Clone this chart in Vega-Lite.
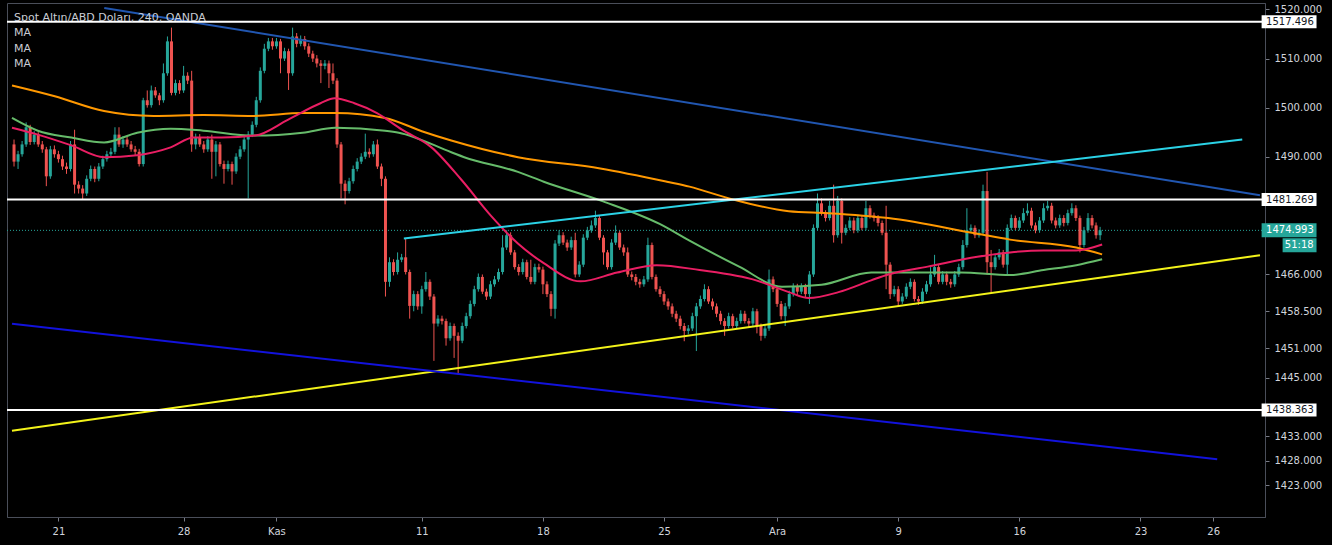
{
  "$schema": "https://vega.github.io/schema/vega-lite/v6.json",
  "width": 1258,
  "height": 514,
  "autosize": "none",
  "padding": {"left": 7, "top": 3, "right": 67, "bottom": 28},
  "background": "#000000",
  "config": {"view": {"stroke": "#4a4e59", "strokeWidth": 1}, "font": "DejaVu Sans"},
  "resolve": {"axis": {"x": "independent", "y": "independent"}},
  "title": {
    "text": "Spot Altın/ABD Doları, 240, OANDA",
    "subtitle": ["MA", "MA", "MA"],
    "anchor": "start", "frame": "group", "orient": "top", "offset": -66, "dx": 7,
    "font": "DejaVu Sans", "fontSize": 11, "fontWeight": "normal", "color": "#c9ccd4",
    "subtitleFont": "DejaVu Sans", "subtitleFontSize": 11, "subtitleColor": "#c9ccd4",
    "subtitleLineHeight": 15.5, "subtitlePadding": 4
  },
  "datasets": {
    "candles": [
      {"i":0,"o":1492.5,"h":1493.5,"l":1488,"c":1489},
      {"i":1,"o":1489,"h":1491.2,"l":1487.5,"c":1490.5},
      {"i":2,"o":1490.5,"h":1493.2,"l":1490,"c":1492.5},
      {"i":3,"o":1492.5,"h":1497,"l":1492,"c":1496},
      {"i":4,"o":1496,"h":1496.5,"l":1492.4,"c":1493},
      {"i":5,"o":1493,"h":1495.2,"l":1492.5,"c":1494.5},
      {"i":6,"o":1494.5,"h":1495,"l":1492,"c":1492.5},
      {"i":7,"o":1492.5,"h":1493.2,"l":1490.8,"c":1491.5},
      {"i":8,"o":1491.5,"h":1492,"l":1484,"c":1486},
      {"i":9,"o":1486,"h":1492.2,"l":1485.5,"c":1491.5},
      {"i":10,"o":1491.5,"h":1492.3,"l":1489.8,"c":1490.5},
      {"i":11,"o":1490.5,"h":1491.2,"l":1488.8,"c":1489.5},
      {"i":12,"o":1489.5,"h":1490.2,"l":1487.3,"c":1488},
      {"i":13,"o":1488,"h":1488.8,"l":1486.5,"c":1487.5},
      {"i":14,"o":1487.5,"h":1493.2,"l":1487,"c":1492.5},
      {"i":15,"o":1492.5,"h":1495.5,"l":1482.5,"c":1484.3},
      {"i":16,"o":1484.3,"h":1485,"l":1482.5,"c":1483.5},
      {"i":17,"o":1483.5,"h":1484.2,"l":1481.3,"c":1482.5},
      {"i":18,"o":1482.5,"h":1486.2,"l":1482,"c":1485.5},
      {"i":19,"o":1485.5,"h":1488.2,"l":1485,"c":1487.5},
      {"i":20,"o":1487.5,"h":1488,"l":1484.8,"c":1485.5},
      {"i":21,"o":1485.5,"h":1488.7,"l":1485,"c":1488},
      {"i":22,"o":1488,"h":1490.2,"l":1487.5,"c":1489.5},
      {"i":23,"o":1489.5,"h":1491.2,"l":1489,"c":1490.5},
      {"i":24,"o":1490.5,"h":1491.8,"l":1490,"c":1491},
      {"i":25,"o":1491,"h":1496,"l":1490.5,"c":1494.5},
      {"i":26,"o":1494.5,"h":1496,"l":1492,"c":1492.5},
      {"i":27,"o":1492.5,"h":1494.2,"l":1491.8,"c":1493.5},
      {"i":28,"o":1493.5,"h":1494.2,"l":1492,"c":1492.5},
      {"i":29,"o":1492.5,"h":1493.2,"l":1491,"c":1491.5},
      {"i":30,"o":1491.5,"h":1492.2,"l":1490.3,"c":1491},
      {"i":31,"o":1491,"h":1491.6,"l":1488,"c":1488.5},
      {"i":32,"o":1488.5,"h":1502,"l":1488,"c":1501.5},
      {"i":33,"o":1501.5,"h":1503.5,"l":1500,"c":1500.5},
      {"i":34,"o":1500.5,"h":1504.5,"l":1500,"c":1503.5},
      {"i":35,"o":1503.5,"h":1504.2,"l":1502,"c":1502.5},
      {"i":36,"o":1502.5,"h":1503,"l":1500.5,"c":1501.5},
      {"i":37,"o":1501.5,"h":1509,"l":1501,"c":1507},
      {"i":38,"o":1507,"h":1514.5,"l":1506.5,"c":1513.5},
      {"i":39,"o":1513.5,"h":1516.3,"l":1502.5,"c":1503},
      {"i":40,"o":1503,"h":1505.7,"l":1502.5,"c":1505},
      {"i":41,"o":1505,"h":1505.6,"l":1502.8,"c":1503.5},
      {"i":42,"o":1503.5,"h":1508.5,"l":1503,"c":1506.5},
      {"i":43,"o":1506.5,"h":1507.2,"l":1504.8,"c":1505.5},
      {"i":44,"o":1505.5,"h":1507.5,"l":1491,"c":1492.5},
      {"i":45,"o":1492.5,"h":1494.7,"l":1491.5,"c":1494},
      {"i":46,"o":1494,"h":1494.6,"l":1492,"c":1492.5},
      {"i":47,"o":1492.5,"h":1493.2,"l":1490.8,"c":1491.5},
      {"i":48,"o":1491.5,"h":1494.2,"l":1491,"c":1493.5},
      {"i":49,"o":1493.5,"h":1494.5,"l":1485.5,"c":1491},
      {"i":50,"o":1491,"h":1493.2,"l":1486,"c":1492.5},
      {"i":51,"o":1492.5,"h":1493,"l":1488,"c":1488.5},
      {"i":52,"o":1488.5,"h":1489.2,"l":1484.5,"c":1487.5},
      {"i":53,"o":1487.5,"h":1489.2,"l":1487,"c":1488.5},
      {"i":54,"o":1488.5,"h":1489,"l":1484.3,"c":1487},
      {"i":55,"o":1487,"h":1490.7,"l":1486.5,"c":1490},
      {"i":56,"o":1490,"h":1492.2,"l":1489.5,"c":1491.5},
      {"i":57,"o":1491.5,"h":1494.2,"l":1491,"c":1493.5},
      {"i":58,"o":1493.5,"h":1495.2,"l":1481.5,"c":1494.5},
      {"i":59,"o":1494.5,"h":1497.2,"l":1494,"c":1496.5},
      {"i":60,"o":1496.5,"h":1502.2,"l":1496,"c":1501.5},
      {"i":61,"o":1501.5,"h":1508.2,"l":1501,"c":1507.5},
      {"i":62,"o":1507.5,"h":1513,"l":1507,"c":1512},
      {"i":63,"o":1512,"h":1514.2,"l":1511.5,"c":1513.5},
      {"i":64,"o":1513.5,"h":1514.2,"l":1511.8,"c":1512.5},
      {"i":65,"o":1512.5,"h":1514.2,"l":1512,"c":1513.5},
      {"i":66,"o":1513.5,"h":1514,"l":1507,"c":1510},
      {"i":67,"o":1510,"h":1512.2,"l":1509.5,"c":1511.5},
      {"i":68,"o":1511.5,"h":1512,"l":1503.6,"c":1507},
      {"i":69,"o":1507,"h":1516.3,"l":1506.5,"c":1514.5},
      {"i":70,"o":1514.5,"h":1515.2,"l":1512.3,"c":1513},
      {"i":71,"o":1513,"h":1514.7,"l":1512.5,"c":1514},
      {"i":72,"o":1514,"h":1514.6,"l":1511.8,"c":1512.5},
      {"i":73,"o":1512.5,"h":1513.1,"l":1510.3,"c":1511},
      {"i":74,"o":1511,"h":1511.6,"l":1509.3,"c":1510},
      {"i":75,"o":1510,"h":1510.7,"l":1508.2,"c":1509},
      {"i":76,"o":1509,"h":1509.7,"l":1505,"c":1508.5},
      {"i":77,"o":1508.5,"h":1509.7,"l":1507.8,"c":1509},
      {"i":78,"o":1509,"h":1509.6,"l":1504,"c":1507},
      {"i":79,"o":1507,"h":1509,"l":1504.8,"c":1505.5},
      {"i":80,"o":1505.5,"h":1506,"l":1491.8,"c":1492.5},
      {"i":81,"o":1492.5,"h":1493,"l":1481.5,"c":1484.5},
      {"i":82,"o":1484.5,"h":1485.2,"l":1480.3,"c":1483},
      {"i":83,"o":1483,"h":1485.7,"l":1482.5,"c":1485},
      {"i":84,"o":1485,"h":1488.2,"l":1484.5,"c":1487.5},
      {"i":85,"o":1487.5,"h":1489.7,"l":1487,"c":1489},
      {"i":86,"o":1489,"h":1490.7,"l":1488.5,"c":1490},
      {"i":87,"o":1490,"h":1494.7,"l":1489.5,"c":1491},
      {"i":88,"o":1491,"h":1491.7,"l":1489.8,"c":1490.5},
      {"i":89,"o":1490.5,"h":1493.2,"l":1490,"c":1492.5},
      {"i":90,"o":1492.5,"h":1493.5,"l":1487.5,"c":1488},
      {"i":91,"o":1488,"h":1488.6,"l":1484,"c":1485.5},
      {"i":92,"o":1485.5,"h":1486,"l":1461.5,"c":1464.5},
      {"i":93,"o":1464.5,"h":1469.5,"l":1463.5,"c":1468.5},
      {"i":94,"o":1468.5,"h":1469.1,"l":1465.8,"c":1466.5},
      {"i":95,"o":1466.5,"h":1470.5,"l":1466,"c":1469},
      {"i":96,"o":1469,"h":1470.2,"l":1468.5,"c":1469.5},
      {"i":97,"o":1469.5,"h":1473.3,"l":1466,"c":1466.5},
      {"i":98,"o":1466.5,"h":1467,"l":1457,"c":1459.6},
      {"i":99,"o":1459.6,"h":1462.7,"l":1458.5,"c":1462},
      {"i":100,"o":1462,"h":1462.6,"l":1458.8,"c":1459.5},
      {"i":101,"o":1459.5,"h":1463.7,"l":1458,"c":1463},
      {"i":102,"o":1463,"h":1466.5,"l":1462.5,"c":1464.5},
      {"i":103,"o":1464.5,"h":1465,"l":1460.8,"c":1461.5},
      {"i":104,"o":1461.5,"h":1462,"l":1448.4,"c":1456},
      {"i":105,"o":1456,"h":1457.7,"l":1455.4,"c":1457},
      {"i":106,"o":1457,"h":1457.6,"l":1455.8,"c":1456.5},
      {"i":107,"o":1456.5,"h":1457,"l":1451.5,"c":1453},
      {"i":108,"o":1453,"h":1456.2,"l":1452.5,"c":1455.5},
      {"i":109,"o":1455.5,"h":1456,"l":1449,"c":1453.5},
      {"i":110,"o":1453.5,"h":1454.2,"l":1445.6,"c":1452.5},
      {"i":111,"o":1452.5,"h":1456.2,"l":1452,"c":1455.5},
      {"i":112,"o":1455.5,"h":1458.2,"l":1455,"c":1457.5},
      {"i":113,"o":1457.5,"h":1460.7,"l":1457,"c":1460},
      {"i":114,"o":1460,"h":1463.7,"l":1459.5,"c":1463},
      {"i":115,"o":1463,"h":1466.2,"l":1462.5,"c":1465.5},
      {"i":116,"o":1465.5,"h":1466,"l":1462,"c":1462.5},
      {"i":117,"o":1462.5,"h":1463.1,"l":1460.8,"c":1461.5},
      {"i":118,"o":1461.5,"h":1464.7,"l":1461,"c":1464},
      {"i":119,"o":1464,"h":1465.7,"l":1463.5,"c":1465},
      {"i":120,"o":1465,"h":1467.2,"l":1464.5,"c":1466.5},
      {"i":121,"o":1466.5,"h":1474,"l":1466,"c":1471.5},
      {"i":122,"o":1471.5,"h":1475,"l":1471,"c":1474},
      {"i":123,"o":1474,"h":1474.6,"l":1470,"c":1470.5},
      {"i":124,"o":1470.5,"h":1471,"l":1467,"c":1467.5},
      {"i":125,"o":1467.5,"h":1468.1,"l":1465.8,"c":1466.5},
      {"i":126,"o":1466.5,"h":1469.2,"l":1466,"c":1468.5},
      {"i":127,"o":1468.5,"h":1469,"l":1465,"c":1465.5},
      {"i":128,"o":1465.5,"h":1469,"l":1464,"c":1464.5},
      {"i":129,"o":1464.5,"h":1468.2,"l":1464,"c":1467.5},
      {"i":130,"o":1467.5,"h":1468.2,"l":1466.4,"c":1467},
      {"i":131,"o":1467,"h":1467.6,"l":1462,"c":1464},
      {"i":132,"o":1464,"h":1464.6,"l":1461.4,"c":1462},
      {"i":133,"o":1462,"h":1462.6,"l":1457.5,"c":1459},
      {"i":134,"o":1459,"h":1473,"l":1457,"c":1472.3},
      {"i":135,"o":1472.3,"h":1475,"l":1471.8,"c":1474},
      {"i":136,"o":1474,"h":1474.6,"l":1472,"c":1472.5},
      {"i":137,"o":1472.5,"h":1473.1,"l":1470.8,"c":1471.5},
      {"i":138,"o":1471.5,"h":1473.7,"l":1471,"c":1473},
      {"i":139,"o":1473,"h":1474.5,"l":1465.4,"c":1466},
      {"i":140,"o":1466,"h":1468.7,"l":1465.5,"c":1468},
      {"i":141,"o":1468,"h":1474.2,"l":1467.5,"c":1473.5},
      {"i":142,"o":1473.5,"h":1475.7,"l":1473,"c":1475},
      {"i":143,"o":1475,"h":1477,"l":1474.5,"c":1476},
      {"i":144,"o":1476,"h":1479,"l":1475.5,"c":1477.5},
      {"i":145,"o":1477.5,"h":1478,"l":1473,"c":1473.5},
      {"i":146,"o":1473.5,"h":1474,"l":1468,"c":1470.5},
      {"i":147,"o":1470.5,"h":1471,"l":1467,"c":1467.5},
      {"i":148,"o":1467.5,"h":1473.2,"l":1467,"c":1472.5},
      {"i":149,"o":1472.5,"h":1476,"l":1472,"c":1474.5},
      {"i":150,"o":1474.5,"h":1475,"l":1471,"c":1471.5},
      {"i":151,"o":1471.5,"h":1472.1,"l":1469.8,"c":1470.5},
      {"i":152,"o":1470.5,"h":1471.5,"l":1465.5,"c":1466},
      {"i":153,"o":1466,"h":1466.6,"l":1464.8,"c":1465.5},
      {"i":154,"o":1465.5,"h":1466.1,"l":1463.8,"c":1464.5},
      {"i":155,"o":1464.5,"h":1465.1,"l":1463.3,"c":1464},
      {"i":156,"o":1464,"h":1465.7,"l":1463.5,"c":1465},
      {"i":157,"o":1465,"h":1473.5,"l":1464.5,"c":1472},
      {"i":158,"o":1472,"h":1472.5,"l":1465,"c":1465.5},
      {"i":159,"o":1465.5,"h":1466,"l":1462.5,"c":1463},
      {"i":160,"o":1463,"h":1463.6,"l":1461.4,"c":1462},
      {"i":161,"o":1462,"h":1462.6,"l":1459.8,"c":1460.5},
      {"i":162,"o":1460.5,"h":1461.1,"l":1458.8,"c":1459.5},
      {"i":163,"o":1459.5,"h":1460.1,"l":1457.3,"c":1458},
      {"i":164,"o":1458,"h":1458.6,"l":1456.3,"c":1457},
      {"i":165,"o":1457,"h":1457.6,"l":1454.8,"c":1455.5},
      {"i":166,"o":1455.5,"h":1456.1,"l":1452.4,"c":1454.5},
      {"i":167,"o":1454.5,"h":1455.7,"l":1453.8,"c":1455},
      {"i":168,"o":1455,"h":1458.2,"l":1454.5,"c":1457.5},
      {"i":169,"o":1457.5,"h":1460.2,"l":1450.4,"c":1459.5},
      {"i":170,"o":1459.5,"h":1461.7,"l":1459,"c":1461},
      {"i":171,"o":1461,"h":1464,"l":1460.5,"c":1463},
      {"i":172,"o":1463,"h":1463.6,"l":1460,"c":1460.5},
      {"i":173,"o":1460.5,"h":1461.1,"l":1458.8,"c":1459.5},
      {"i":174,"o":1459.5,"h":1460.1,"l":1457.3,"c":1458},
      {"i":175,"o":1458,"h":1458.6,"l":1455.8,"c":1456.5},
      {"i":176,"o":1456.5,"h":1457.1,"l":1453.5,"c":1455.5},
      {"i":177,"o":1455.5,"h":1458.2,"l":1455,"c":1457.5},
      {"i":178,"o":1457.5,"h":1458,"l":1455,"c":1455.5},
      {"i":179,"o":1455.5,"h":1457.2,"l":1455,"c":1456.5},
      {"i":180,"o":1456.5,"h":1458.7,"l":1456,"c":1458},
      {"i":181,"o":1458,"h":1458.6,"l":1456,"c":1456.5},
      {"i":182,"o":1456.5,"h":1457.1,"l":1455.3,"c":1456},
      {"i":183,"o":1456,"h":1459.2,"l":1455.5,"c":1458.5},
      {"i":184,"o":1458.5,"h":1459,"l":1454,"c":1455.5},
      {"i":185,"o":1455.5,"h":1456,"l":1452.5,"c":1453.5},
      {"i":186,"o":1453.5,"h":1455.7,"l":1453,"c":1455},
      {"i":187,"o":1455,"h":1467,"l":1454.5,"c":1465},
      {"i":188,"o":1465,"h":1465.6,"l":1462.4,"c":1463},
      {"i":189,"o":1463,"h":1463.6,"l":1459.4,"c":1460},
      {"i":190,"o":1460,"h":1460.6,"l":1456.8,"c":1457.5},
      {"i":191,"o":1457.5,"h":1460.2,"l":1455.5,"c":1459.5},
      {"i":192,"o":1459.5,"h":1462.7,"l":1459,"c":1462},
      {"i":193,"o":1462,"h":1464.2,"l":1461.5,"c":1463.5},
      {"i":194,"o":1463.5,"h":1464.1,"l":1461.8,"c":1462.5},
      {"i":195,"o":1462.5,"h":1464.2,"l":1462,"c":1463.5},
      {"i":196,"o":1463.5,"h":1464.1,"l":1461.3,"c":1462},
      {"i":197,"o":1462,"h":1466.7,"l":1460,"c":1466},
      {"i":198,"o":1466,"h":1476.2,"l":1465.5,"c":1475.5},
      {"i":199,"o":1475.5,"h":1482.5,"l":1475,"c":1480.5},
      {"i":200,"o":1480.5,"h":1481.5,"l":1478,"c":1478.5},
      {"i":201,"o":1478.5,"h":1479.1,"l":1476.8,"c":1477.5},
      {"i":202,"o":1477.5,"h":1481,"l":1477,"c":1480},
      {"i":203,"o":1480,"h":1484.3,"l":1472.5,"c":1474},
      {"i":204,"o":1474,"h":1482,"l":1473.5,"c":1481},
      {"i":205,"o":1481,"h":1481.5,"l":1472.3,"c":1474.5},
      {"i":206,"o":1474.5,"h":1476.2,"l":1474,"c":1475.5},
      {"i":207,"o":1475.5,"h":1477.7,"l":1475,"c":1477},
      {"i":208,"o":1477,"h":1477.6,"l":1474.4,"c":1475},
      {"i":209,"o":1475,"h":1478.2,"l":1474.5,"c":1477.5},
      {"i":210,"o":1477.5,"h":1478,"l":1475,"c":1475.5},
      {"i":211,"o":1475.5,"h":1481,"l":1475,"c":1479.5},
      {"i":212,"o":1479.5,"h":1480.1,"l":1477.4,"c":1478},
      {"i":213,"o":1478,"h":1478.6,"l":1476.8,"c":1477.5},
      {"i":214,"o":1477.5,"h":1478.1,"l":1475.8,"c":1476.5},
      {"i":215,"o":1476.5,"h":1477,"l":1474,"c":1474.5},
      {"i":216,"o":1474.5,"h":1480,"l":1463,"c":1468},
      {"i":217,"o":1468,"h":1468.5,"l":1461,"c":1462},
      {"i":218,"o":1462,"h":1463.7,"l":1461.5,"c":1463},
      {"i":219,"o":1463,"h":1463.6,"l":1459.5,"c":1460.5},
      {"i":220,"o":1460.5,"h":1462.2,"l":1460,"c":1461.5},
      {"i":221,"o":1461.5,"h":1464.2,"l":1461,"c":1463.5},
      {"i":222,"o":1463.5,"h":1465.2,"l":1463,"c":1464.5},
      {"i":223,"o":1464.5,"h":1465,"l":1460.5,"c":1461},
      {"i":224,"o":1461,"h":1461.6,"l":1459.8,"c":1460.5},
      {"i":225,"o":1460.5,"h":1463.2,"l":1460,"c":1462.5},
      {"i":226,"o":1462.5,"h":1464.7,"l":1462,"c":1464},
      {"i":227,"o":1464,"h":1467.5,"l":1463.5,"c":1466},
      {"i":228,"o":1466,"h":1470,"l":1465.5,"c":1467.5},
      {"i":229,"o":1467.5,"h":1468,"l":1464,"c":1464.5},
      {"i":230,"o":1464.5,"h":1466.7,"l":1464,"c":1466},
      {"i":231,"o":1466,"h":1466.6,"l":1463.8,"c":1464.5},
      {"i":232,"o":1464.5,"h":1465.1,"l":1463.3,"c":1464},
      {"i":233,"o":1464,"h":1466.7,"l":1463.5,"c":1466},
      {"i":234,"o":1466,"h":1468.2,"l":1465.5,"c":1467.5},
      {"i":235,"o":1467.5,"h":1473,"l":1467,"c":1472},
      {"i":236,"o":1472,"h":1479.5,"l":1471.5,"c":1475},
      {"i":237,"o":1475,"h":1476.2,"l":1474.5,"c":1475.5},
      {"i":238,"o":1475.5,"h":1476,"l":1473.4,"c":1474},
      {"i":239,"o":1474,"h":1475.2,"l":1473.5,"c":1474.5},
      {"i":240,"o":1474.5,"h":1484.3,"l":1474,"c":1483},
      {"i":241,"o":1483,"h":1486.9,"l":1466,"c":1468.5},
      {"i":242,"o":1468.5,"h":1471,"l":1462.4,"c":1467.5},
      {"i":243,"o":1467.5,"h":1470.2,"l":1467,"c":1469.5},
      {"i":244,"o":1469.5,"h":1471.2,"l":1469,"c":1470.5},
      {"i":245,"o":1470.5,"h":1471,"l":1467.4,"c":1468},
      {"i":246,"o":1468,"h":1476.2,"l":1466,"c":1475.5},
      {"i":247,"o":1475.5,"h":1478.2,"l":1475,"c":1477.5},
      {"i":248,"o":1477.5,"h":1478,"l":1475,"c":1475.5},
      {"i":249,"o":1475.5,"h":1477.7,"l":1475,"c":1477},
      {"i":250,"o":1477,"h":1479.5,"l":1476.5,"c":1478.5},
      {"i":251,"o":1478.5,"h":1480.5,"l":1478,"c":1479},
      {"i":252,"o":1479,"h":1479.6,"l":1475.4,"c":1476},
      {"i":253,"o":1476,"h":1476.6,"l":1474.4,"c":1475},
      {"i":254,"o":1475,"h":1477.7,"l":1474.5,"c":1477},
      {"i":255,"o":1477,"h":1480.5,"l":1476.5,"c":1479.5},
      {"i":256,"o":1479.5,"h":1481,"l":1479,"c":1480},
      {"i":257,"o":1480,"h":1480.6,"l":1476.4,"c":1477},
      {"i":258,"o":1477,"h":1477.6,"l":1475.4,"c":1476},
      {"i":259,"o":1476,"h":1478.2,"l":1475.5,"c":1477.5},
      {"i":260,"o":1477.5,"h":1478.1,"l":1475.8,"c":1476.5},
      {"i":261,"o":1476.5,"h":1479.2,"l":1476,"c":1478.5},
      {"i":262,"o":1478.5,"h":1480.5,"l":1478,"c":1479.5},
      {"i":263,"o":1479.5,"h":1480.1,"l":1476.9,"c":1477.5},
      {"i":264,"o":1477.5,"h":1478,"l":1470.5,"c":1472},
      {"i":265,"o":1472,"h":1475.7,"l":1471.5,"c":1475},
      {"i":266,"o":1475,"h":1478.5,"l":1474.5,"c":1477.5},
      {"i":267,"o":1477.5,"h":1478.1,"l":1475.4,"c":1476},
      {"i":268,"o":1476,"h":1476.6,"l":1473.3,"c":1474},
      {"i":269,"o":1474,"h":1475.7,"l":1473,"c":1474.993}
    ],
    "lines": [
      {"name":"m200","t":-0.5,"v":1504.5},{"name":"m200","t":10.1,"v":1502.3},{"name":"m200","t":22.3,"v":1499.3},
      {"name":"m200","t":34.6,"v":1498.3},{"name":"m200","t":46.9,"v":1498.5},{"name":"m200","t":59.2,"v":1498.3},
      {"name":"m200","t":71.5,"v":1498.9},{"name":"m200","t":79.6,"v":1498.9},{"name":"m200","t":91.9,"v":1497.9},
      {"name":"m200","t":101,"v":1495.2},{"name":"m200","t":108.3,"v":1493.3},{"name":"m200","t":124.8,"v":1489.9},
      {"name":"m200","t":145.2,"v":1487.6},{"name":"m200","t":161.7,"v":1484.9},{"name":"m200","t":167.3,"v":1483.9},
      {"name":"m200","t":177.1,"v":1481.5},{"name":"m200","t":191.9,"v":1478.9},{"name":"m200","t":201.7,"v":1478.5},
      {"name":"m200","t":216.5,"v":1477.5},{"name":"m200","t":238.6,"v":1474.3},{"name":"m200","t":246.7,"v":1473.1},
      {"name":"m200","t":263.1,"v":1471.5},{"name":"m200","t":269.5,"v":1470.1},
      {"name":"m100","t":-0.5,"v":1497.9},{"name":"m100","t":5.9,"v":1495.3},{"name":"m100","t":14.2,"v":1493.9},
      {"name":"m100","t":22.3,"v":1492.9},{"name":"m100","t":30.5,"v":1494.9},{"name":"m100","t":38.8,"v":1495.7},
      {"name":"m100","t":46.9,"v":1495.3},{"name":"m100","t":59.2,"v":1494.3},{"name":"m100","t":71.5,"v":1494.9},
      {"name":"m100","t":79.6,"v":1495.9},{"name":"m100","t":91.9,"v":1495.3},{"name":"m100","t":95.3,"v":1494.9},
      {"name":"m100","t":108.3,"v":1490.9},{"name":"m100","t":111.5,"v":1489.9},{"name":"m100","t":124.8,"v":1486.9},
      {"name":"m100","t":131.2,"v":1484.9},{"name":"m100","t":145.9,"v":1480.9},{"name":"m100","t":159.9,"v":1476.3},
      {"name":"m100","t":167.3,"v":1472.9},{"name":"m100","t":179.6,"v":1467.6},{"name":"m100","t":190.2,"v":1463.5},
      {"name":"m100","t":200,"v":1463.9},{"name":"m100","t":212.3,"v":1466.4},{"name":"m100","t":234.4,"v":1466.4},
      {"name":"m100","t":246.7,"v":1465.9},{"name":"m100","t":255,"v":1466.9},{"name":"m100","t":263.1,"v":1467.9},
      {"name":"m100","t":269.5,"v":1469.1},
      {"name":"m50","t":-0.5,"v":1495.9},{"name":"m50","t":5.9,"v":1494.5},{"name":"m50","t":14.2,"v":1492.3},
      {"name":"m50","t":22.3,"v":1489.9},{"name":"m50","t":30.5,"v":1490.3},{"name":"m50","t":38.8,"v":1491.9},
      {"name":"m50","t":44.5,"v":1493.9},{"name":"m50","t":51.4,"v":1493.9},{"name":"m50","t":59.7,"v":1494.3},
      {"name":"m50","t":67.8,"v":1497.5},{"name":"m50","t":75.9,"v":1500.9},{"name":"m50","t":79.4,"v":1501.9},
      {"name":"m50","t":84.3,"v":1500.9},{"name":"m50","t":89.9,"v":1498.9},{"name":"m50","t":96.1,"v":1495.5},
      {"name":"m50","t":103.4,"v":1491.9},{"name":"m50","t":110.8,"v":1485.3},{"name":"m50","t":118.2,"v":1477.9},
      {"name":"m50","t":124.8,"v":1472.3},{"name":"m50","t":131.2,"v":1468.3},{"name":"m50","t":140.3,"v":1464.6},
      {"name":"m50","t":149.4,"v":1466.4},{"name":"m50","t":159.2,"v":1467.9},{"name":"m50","t":169.8,"v":1466.9},
      {"name":"m50","t":183.8,"v":1464.8},{"name":"m50","t":191.9,"v":1462.4},{"name":"m50","t":196.8,"v":1461.2},
      {"name":"m50","t":204.2,"v":1462.4},{"name":"m50","t":212.3,"v":1464.8},{"name":"m50","t":216.5,"v":1466},
      {"name":"m50","t":226.3,"v":1467.6},{"name":"m50","t":238.6,"v":1469.6},{"name":"m50","t":246.7,"v":1470.5},
      {"name":"m50","t":255,"v":1470.9},{"name":"m50","t":263.1,"v":1470.9},{"name":"m50","t":269.5,"v":1472.1},
      {"name":"navy","t":22.35,"v":1520.3},{"name":"navy","t":308.6,"v":1482.13},
      {"name":"cyan","t":96.55,"v":1473.33},{"name":"cyan","t":304.2,"v":1493.5},
      {"name":"yellow","t":-0.5,"v":1434.17},{"name":"yellow","t":308.6,"v":1469.94},
      {"name":"blue","t":-0.5,"v":1455.95},{"name":"blue","t":298.0,"v":1428.37}
    ],
    "levels": [
      {"v":1517.496,"label":"1517.496"},
      {"v":1481.269,"label":"1481.269"},
      {"v":1438.363,"label":"1438.363"}
    ],
    "price": [
      {"v":1474.993,"label":"1474.993","timer":"51:18"}
    ]
  },
  "layer": [
    {
      "data": {"name": "candles"},
      "mark": {"type": "rule", "strokeWidth": 1},
      "encoding": {
        "x": {"field": "i", "type": "quantitative", "title": null,
          "scale": {"domain": [-0.5, 308.6], "nice": false, "zero": false},
          "axis": {"orient": "bottom", "values": [11, 42, 65, 101, 131, 161, 189, 219, 249, 279, 297],
            "labelExpr": "datum.value==11?'21':datum.value==42?'28':datum.value==65?'Kas':datum.value==101?'11':datum.value==131?'18':datum.value==161?'25':datum.value==189?'Ara':datum.value==219?'9':datum.value==249?'16':datum.value==279?'23':'26'",
            "grid": false, "domainColor": "#4a4e59", "tickColor": "#787b86", "tickSize": 4,
            "labelColor": "#d1d4dc", "labelFont": "DejaVu Sans", "labelFontSize": 10, "labelPadding": 5,
            "labelFlush": false, "labelOverlap": false}},
        "y": {"field": "l", "type": "quantitative", "title": null,
          "scale": {"domain": [1417.6, 1520.3], "nice": false, "zero": false},
          "axis": {"orient": "right", "values": [1423, 1428, 1433, 1445, 1451, 1458.5, 1466, 1490, 1500, 1510, 1520],
            "format": ".3f", "grid": false, "domainColor": "#4a4e59", "tickColor": "#787b86", "tickSize": 4,
            "labelColor": "#d1d4dc", "labelFont": "DejaVu Sans", "labelFontSize": 10, "labelPadding": 5,
            "labelFlush": false, "labelOverlap": false}},
        "y2": {"field": "h"},
        "color": {"condition": {"test": "datum.c >= datum.o", "value": "#26a69a"}, "value": "#ef5350"}
      }
    },
    {
      "data": {"name": "price"},
      "mark": {"type": "rule", "color": "#26a69a", "strokeWidth": 1, "strokeDash": [1, 2]},
      "encoding": {
        "y": {"field": "v", "type": "quantitative", "scale": {"domain": [1417.6, 1520.3], "nice": false, "zero": false}, "axis": null, "title": null}
      }
    },
    {
      "data": {"name": "candles"},
      "mark": {"type": "bar", "size": 3},
      "encoding": {
        "x": {"field": "i", "type": "quantitative", "axis": null, "title": null,
          "scale": {"domain": [-0.5, 308.6], "nice": false, "zero": false}},
        "y": {"field": "o", "type": "quantitative", "axis": null, "title": null,
          "scale": {"domain": [1417.6, 1520.3], "nice": false, "zero": false}},
        "y2": {"field": "c"},
        "color": {"condition": {"test": "datum.c >= datum.o", "value": "#26a69a"}, "value": "#ef5350"}
      }
    },
    {
      "data": {"name": "lines"},
      "mark": {"type": "line", "interpolate": "monotone"},
      "encoding": {
        "x": {"field": "t", "type": "quantitative", "axis": null, "title": null,
          "scale": {"domain": [-0.5, 308.6], "nice": false, "zero": false}},
        "y": {"field": "v", "type": "quantitative", "axis": null, "title": null,
          "scale": {"domain": [1417.6, 1520.3], "nice": false, "zero": false}},
        "color": {"field": "name", "type": "nominal", "legend": null,
          "scale": {"domain": ["m200", "m100", "m50", "navy", "cyan", "yellow", "blue"],
            "range": ["#ff9800", "#66bb6a", "#e91e63", "#2156b0", "#2bd2e6", "#f3f31a", "#1212dc"]}},
        "strokeWidth": {"field": "name", "type": "nominal", "legend": null,
          "scale": {"domain": ["m200", "m100", "m50", "navy", "cyan", "yellow", "blue"],
            "range": [2, 2, 2, 2, 2, 2.5, 2]}}
      }
    },
    {
      "data": {"name": "levels"},
      "mark": {"type": "rule", "color": "#ffffff", "strokeWidth": 2},
      "encoding": {
        "y": {"field": "v", "type": "quantitative", "axis": null, "title": null,
          "scale": {"domain": [1417.6, 1520.3], "nice": false, "zero": false}}
      }
    },
    {
      "data": {"name": "levels"},
      "mark": {"type": "bar", "color": "#ffffff", "size": 13},
      "encoding": {
        "x": {"datum": 309.0, "type": "quantitative", "axis": null, "title": null,
          "scale": {"domain": [-0.5, 308.6], "nice": false, "zero": false}},
        "x2": {"datum": 322.6},
        "y": {"field": "v", "type": "quantitative", "axis": null, "title": null,
          "scale": {"domain": [1417.6, 1520.3], "nice": false, "zero": false}}
      }
    },
    {
      "data": {"name": "levels"},
      "mark": {"type": "text", "align": "left", "baseline": "middle", "color": "#131722", "font": "DejaVu Sans", "fontSize": 10},
      "encoding": {
        "x": {"datum": 310.1, "type": "quantitative", "axis": null, "title": null,
          "scale": {"domain": [-0.5, 308.6], "nice": false, "zero": false}},
        "y": {"field": "v", "type": "quantitative", "axis": null, "title": null,
          "scale": {"domain": [1417.6, 1520.3], "nice": false, "zero": false}},
        "text": {"field": "label"}
      }
    },
    {
      "data": {"name": "price"},
      "mark": {"type": "bar", "color": "#26a69a", "size": 14},
      "encoding": {
        "x": {"datum": 309.0, "type": "quantitative", "axis": null, "title": null,
          "scale": {"domain": [-0.5, 308.6], "nice": false, "zero": false}},
        "x2": {"datum": 322.6},
        "y": {"field": "v", "type": "quantitative", "axis": null, "title": null,
          "scale": {"domain": [1417.6, 1520.3], "nice": false, "zero": false}}
      }
    },
    {
      "data": {"name": "price"},
      "mark": {"type": "text", "align": "left", "baseline": "middle", "color": "#ffffff", "font": "DejaVu Sans", "fontSize": 10},
      "encoding": {
        "x": {"datum": 310.1, "type": "quantitative", "axis": null, "title": null,
          "scale": {"domain": [-0.5, 308.6], "nice": false, "zero": false}},
        "y": {"field": "v", "type": "quantitative", "axis": null, "title": null,
          "scale": {"domain": [1417.6, 1520.3], "nice": false, "zero": false}},
        "text": {"field": "label"}
      }
    },
    {
      "data": {"name": "price"},
      "mark": {"type": "bar", "color": "#26a69a", "size": 14, "yOffset": 15},
      "encoding": {
        "x": {"datum": 314.2, "type": "quantitative", "axis": null, "title": null,
          "scale": {"domain": [-0.5, 308.6], "nice": false, "zero": false}},
        "x2": {"datum": 322.6},
        "y": {"field": "v", "type": "quantitative", "axis": null, "title": null,
          "scale": {"domain": [1417.6, 1520.3], "nice": false, "zero": false}}
      }
    },
    {
      "data": {"name": "price"},
      "mark": {"type": "text", "align": "right", "baseline": "middle", "color": "#ffffff", "font": "DejaVu Sans", "fontSize": 10, "yOffset": 15},
      "encoding": {
        "x": {"datum": 321.9, "type": "quantitative", "axis": null, "title": null,
          "scale": {"domain": [-0.5, 308.6], "nice": false, "zero": false}},
        "y": {"field": "v", "type": "quantitative", "axis": null, "title": null,
          "scale": {"domain": [1417.6, 1520.3], "nice": false, "zero": false}},
        "text": {"field": "timer"}
      }
    }
  ]
}
